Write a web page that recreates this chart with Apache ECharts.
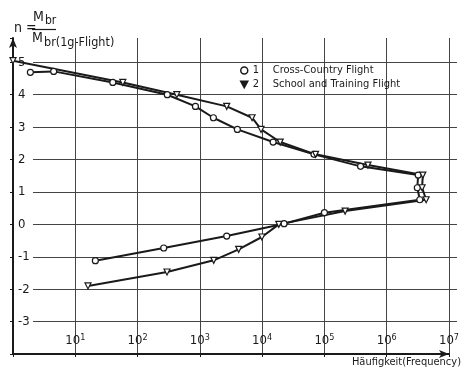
<!DOCTYPE html>
<html><head><meta charset="utf-8">
<script src="https://cdn.jsdelivr.net/npm/echarts@6/dist/echarts.min.js"></script>
<style>html,body{margin:0;padding:0;background:#fff}#c{width:462px;height:372px}</style>
</head><body><div id="c"></div>
<script>
// Cross-Country Flight (circles)
const crossFreq = [1.9, 4.5, 40, 300, 850, 1650, 4000, 15000, 68000, 380000, 3.2e6, 3.1e6, 3.4e6, 1.0e5, 22500, 2700, 263, 21];
const crossN    = [4.69, 4.72, 4.38, 4.0, 3.64, 3.29, 2.93, 2.54, 2.16, 1.79, 1.52, 1.13, 0.76, 0.36, 0.02, -0.36, -0.73, -1.12];
// School and Training Flight (triangles)
const schoolFreq = [1, 58, 427, 2700, 6900, 9600, 19500, 72000, 500000, 3.8e6, 3.7e6, 4.3e6, 2.15e5, 18500, 9900, 4200, 1670, 297, 16];
const schoolN    = [5.05, 4.38, 4.0, 3.64, 3.29, 2.93, 2.54, 2.16, 1.83, 1.52, 1.13, 0.76, 0.41, 0.0, -0.39, -0.77, -1.11, -1.47, -1.9];
const seriesNames = ['Cross-Country Flight', 'School and Training Flight'];
const yTicks = [-3, -2, -1, 0, 1, 2, 3, 4, 5];

const FONT = "'Liberation Sans Narrow','DejaVu Sans Condensed','DejaVu Sans',sans-serif";
const INK = '#1a1a1a';
const DOWN_TRI = 'path://M0,0 L10,0 L5,9 Z';
const chart = echarts.init(document.getElementById('c'));
const zip = (a, b) => a.map((v, i) => [v, b[i]]);
const G = { top: 38, bottom: 18, right: 5 };

chart.setOption({
  backgroundColor: '#fff',
  animation: false,
  textStyle: { fontFamily: FONT, color: INK },
  grid: [
    Object.assign({ left: 13 }, G),
    Object.assign({ left: 33 }, G)
  ],
  xAxis: [{
    type: 'log', logBase: 10, min: 1, max: 1e7, gridIndex: 0,
    axisLine: { show: true, onZero: false, lineStyle: { color: INK, width: 2 }, symbol: ['none', 'arrow'], symbolSize: [6, 10] },
    axisTick: { show: true, length: 3, lineStyle: { color: INK } },
    splitLine: { show: true, lineStyle: { color: '#444', width: 1 } },
    axisLabel: {
      inside: true, margin: 5, color: INK, fontFamily: FONT,
      formatter: v => {
        const e = Math.round(Math.log10(v));
        if (e <= 0) return '';
        return '{b|10}{s|' + e + '}';
      },
      rich: {
        b: { fontSize: 13, fontFamily: FONT, color: INK, lineHeight: 16 },
        s: { fontSize: 9, fontFamily: FONT, color: INK, lineHeight: 10, verticalAlign: 'top' }
      }
    }
  }, {
    type: 'value', min: 0, max: 1, gridIndex: 1, show: false
  }],
  yAxis: [{
    type: 'value', min: -4, max: 5.75, interval: 1, gridIndex: 0,
    axisLine: { show: true, onZero: false, lineStyle: { color: INK, width: 2 }, symbol: ['none', 'arrow'], symbolSize: [6, 10] },
    axisTick: { show: true, length: 3, lineStyle: { color: INK } },
    splitLine: { show: false },
    axisLabel: {
      inside: true, margin: 5, fontSize: 13, color: INK, fontFamily: FONT,
      formatter: v => yTicks.indexOf(v) >= 0 ? String(v) : ''
    }
  }, {
    type: 'value', min: -4, max: 5.75, interval: 1, gridIndex: 1,
    axisLine: { show: false, onZero: false }, axisTick: { show: false }, axisLabel: { show: false },
    splitLine: { show: true, showMinLine: false, showMaxLine: false, lineStyle: { color: '#444', width: 1 } }
  }],
  legend: {
    orient: 'vertical', left: 235, top: 60, itemGap: 3, itemWidth: 7, itemHeight: 7,
    itemStyle: { color: '#fff', borderColor: INK, borderWidth: 1.5 },
    data: [
      { name: seriesNames[0], icon: 'circle' },
      { name: seriesNames[1], icon: DOWN_TRI, itemStyle: { color: INK, borderColor: INK } }
    ],
    formatter: name => '{n|' + (name === seriesNames[0] ? '1' : '2') + '}{t|' + name + '}',
    textStyle: {
      fontSize: 11, fontFamily: FONT, color: INK,
      rich: {
        n: { fontSize: 11, fontFamily: FONT, color: INK, width: 20 },
        t: { fontSize: 11, fontFamily: FONT, color: INK }
      }
    }
  },
  series: [{
    name: seriesNames[0], type: 'line', xAxisIndex: 0, yAxisIndex: 0,
    data: zip(crossFreq, crossN),
    symbol: 'circle', symbolSize: 6, showAllSymbol: true,
    lineStyle: { color: INK, width: 2 },
    itemStyle: { color: '#fff', borderColor: INK, borderWidth: 1.2 },
    z: 3
  }, {
    name: seriesNames[1], type: 'line', xAxisIndex: 0, yAxisIndex: 0,
    data: zip(schoolFreq, schoolN),
    symbol: DOWN_TRI, symbolSize: 6, showAllSymbol: true,
    lineStyle: { color: INK, width: 2 },
    itemStyle: { color: '#fff', borderColor: INK, borderWidth: 1.2 },
    z: 3
  }],
  graphic: [
    { type: 'text', left: 14, top: 21, style: { text: 'n =', fontSize: 14, fontFamily: FONT, fill: INK } },
    { type: 'text', left: 33, top: 10, style: { text: 'M', fontSize: 14, fontFamily: FONT, fill: INK } },
    { type: 'text', left: 45, top: 15, style: { text: 'br', fontSize: 12, fontFamily: FONT, fill: INK } },
    { type: 'line', shape: { x1: 32, y1: 29.5, x2: 56, y2: 29.5 }, style: { stroke: INK, lineWidth: 1.2 } },
    { type: 'text', left: 32, top: 31, style: { text: 'M', fontSize: 14, fontFamily: FONT, fill: INK } },
    { type: 'text', left: 44, top: 36, style: { text: 'br(1g-Flight)', fontSize: 12.5, fontFamily: FONT, fill: INK } },
    { type: 'text', right: 1, top: 357, style: { text: 'Häufigkeit(Frequency)', fontSize: 11, fontFamily: FONT, fill: INK } }
  ]
});
</script>
</body></html>
